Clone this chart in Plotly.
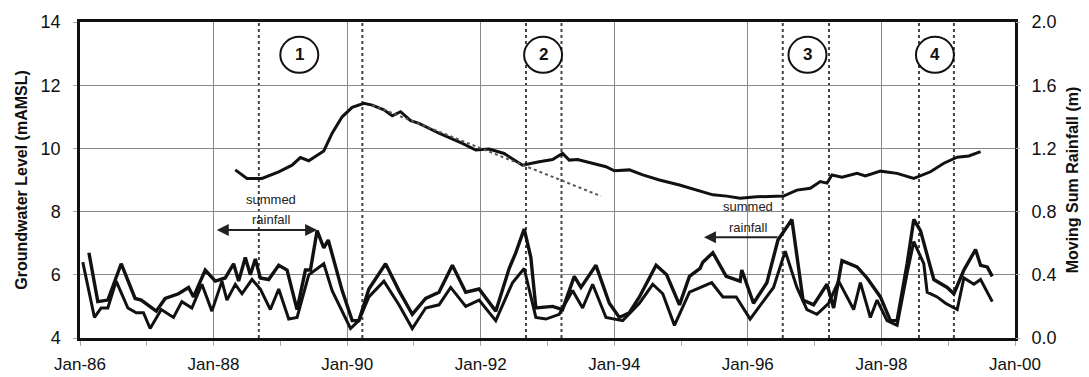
import numpy as np
import pandas as pd
import plotly.graph_objects as go

# ---------------- data (months after Jan-1986, values) ----------------
# Upper moving-sum rainfall series (m)
rain_a_month = [1.6, 3.2, 5.0, 7.4, 9.9, 11, 13.7, 15.3, 17.7, 19.5, 20.4, 22.5, 24.3, 26.1, 27.6,
                28.5, 29.7, 30.6, 31.5, 32.4, 33.9, 35.7, 37.2, 39.0, 40.5, 41.4, 42.6, 43.8, 44.6,
                47.1, 48.9, 50.1, 51.9, 54.9, 57.3, 59.7, 62.1, 64.5, 66.9, 69.3, 71.7, 74.7, 77.1,
                78.3, 79.8, 81.0, 81.9, 84.9, 86.7, 88.8, 90.0, 92.7, 95.1, 96.9, 98.7, 100.5, 103.5,
                105.4, 107.7, 109.5, 111.4, 111.9, 113.7, 116.1, 118.6, 118.9, 121.0, 123.4, 125.4,
                127.9, 129.9, 131.8, 134.2, 135.4, 136.9, 138.4, 139.6, 141.4, 143.8, 145.6, 146.8,
                148.6, 149.8, 151.0, 153.4, 155.8, 157.0, 158.8, 160.9, 161.8, 163.0, 163.9]
rain_a = [0.54, 0.23, 0.24, 0.47, 0.25, 0.24, 0.17, 0.25, 0.28, 0.32, 0.26, 0.43, 0.36, 0.38, 0.47,
          0.36, 0.51, 0.40, 0.50, 0.38, 0.37, 0.46, 0.43, 0.18, 0.43, 0.43, 0.68, 0.57, 0.62,
          0.30, 0.11, 0.11, 0.31, 0.47, 0.30, 0.15, 0.25, 0.29, 0.46, 0.29, 0.31, 0.17, 0.44,
          0.54, 0.69, 0.51, 0.19, 0.20, 0.18, 0.39, 0.32, 0.46, 0.22, 0.13, 0.16, 0.26, 0.46,
          0.40, 0.21, 0.39, 0.44, 0.48, 0.54, 0.39, 0.36, 0.43, 0.22, 0.35, 0.62,
          0.75, 0.24, 0.21, 0.34, 0.19, 0.49, 0.47, 0.45, 0.38, 0.26, 0.11, 0.11,
          0.47, 0.75, 0.68, 0.37, 0.32, 0.28, 0.43, 0.56, 0.46, 0.45, 0.39]

# Lower moving-sum rainfall series (m)
rain_b_month = [0.5, 2.6, 3.8, 5.0, 6.5, 8.6, 10.1, 11.4, 12.6, 14.6, 16.8, 18.3, 20.1, 21.9, 23.7,
                25.5, 26.4, 27.9, 29.1, 30.9, 32.4, 34.2, 35.7, 37.5, 39.0, 41.1, 43.8, 45.3, 48.6,
                50.1, 51.9, 54.6, 57.3, 59.7, 62.1, 64.5, 66.6, 69.3, 71.7, 74.7, 77.7, 79.8, 81.9,
                83.7, 86.1, 88.5, 90.3, 92.1, 94.5, 97.5, 100.5, 102.9, 104.7, 106.8, 109.5, 113.5,
                115.5, 117.9, 120.4, 124.6, 126.7, 128.8, 130.6, 132.4, 134.5, 136.3, 139.0, 140.2,
                142.0, 143.2, 145.0, 146.8, 148.6, 149.8, 151.6, 152.2, 154.0, 155.5, 157.6, 158.8,
                160.6, 161.8, 163.9]
rain_b = [0.48, 0.13, 0.19, 0.19, 0.36, 0.19, 0.16, 0.16, 0.06, 0.18, 0.13, 0.23, 0.19, 0.34, 0.17,
          0.36, 0.24, 0.34, 0.28, 0.37, 0.31, 0.18, 0.31, 0.12, 0.13, 0.40, 0.47, 0.30, 0.06,
          0.11, 0.26, 0.36, 0.21, 0.06, 0.19, 0.21, 0.32, 0.20, 0.24, 0.11, 0.35, 0.44, 0.13,
          0.12, 0.15, 0.30, 0.19, 0.34, 0.13, 0.11, 0.22, 0.34, 0.28, 0.08, 0.29, 0.35,
          0.26, 0.26, 0.12, 0.32, 0.55, 0.32, 0.18, 0.15, 0.22, 0.36, 0.18, 0.35,
          0.13, 0.24, 0.11, 0.08, 0.41, 0.61, 0.47, 0.29, 0.26, 0.22, 0.18, 0.38,
          0.34, 0.37, 0.23]

# Groundwater level (mAMSL)
gw_month = [27.9, 30.0, 32.7, 35.7, 38.1, 39.6, 41.1, 42.9, 43.8, 45.3, 47.1, 48.9, 51.0, 52.5,
            54.6, 56.1, 57.6, 59.4, 60.9, 64.5, 68.7, 71.1, 73.5, 76.2, 79.5, 82.5, 84.9, 86.7,
            87.9, 89.4, 92.1, 94.5, 96.0, 98.7, 101.1, 104.1, 107.7, 110.8, 113.7, 116.2, 118.6,
            121.6, 126.4, 128.8, 131.2, 133.0, 134.2, 135.1, 136.9, 139.6, 141.1, 143.8, 146.8,
            149.8, 152.8, 155.2, 157.6, 159.7, 161.8]
gw_level = [9.32, 9.05, 9.05, 9.26, 9.47, 9.71, 9.61, 9.81, 9.92, 10.48, 11.00, 11.30, 11.43, 11.37,
            11.22, 11.03, 11.16, 10.88, 10.79, 10.48, 10.16, 9.95, 9.98, 9.84, 9.47, 9.58, 9.65, 9.84,
            9.63, 9.65, 9.53, 9.42, 9.29, 9.32, 9.16, 9.00, 8.84, 8.68, 8.53, 8.49, 8.42,
            8.47, 8.49, 8.68, 8.74, 8.95, 8.90, 9.16, 9.09, 9.21, 9.13, 9.28, 9.21,
            9.05, 9.26, 9.53, 9.72, 9.76, 9.90]

# Recession trend (dotted)
trend_month = [52.5, 93.6]
trend_level = [11.37, 8.49]

# Event markers
event_dates = ["1988-09-05", "1990-03-25", "1992-09-05", "1993-03-18",
               "1996-07-10", "1997-03-20", "1998-07-25", "1999-02-01"]
event_labels = ["1", "2", "3", "4"]
event_label_months = [39.4, 83.2, 130.7, 153.6]

x_tick_labels = ["Jan-86", "Jan-88", "Jan-90", "Jan-92", "Jan-94", "Jan-96", "Jan-98", "Jan-00"]

BASE = pd.Timestamp("1986-01-01")


def to_date(months):
    return BASE + pd.to_timedelta(np.asarray(months, dtype=float) * 30.4375, unit="D")


FONT = "Liberation Sans, Arial, sans-serif"

fig = go.Figure()

fig.add_trace(go.Scatter(x=to_date(gw_month), y=gw_level, mode="lines",
                         line=dict(color="#111", width=3), yaxis="y", showlegend=False))
fig.add_trace(go.Scatter(x=to_date(trend_month), y=trend_level, mode="lines",
                         line=dict(color="#555", width=2, dash="dot"), yaxis="y", showlegend=False))
fig.add_trace(go.Scatter(x=to_date(rain_a_month), y=rain_a, mode="lines",
                         line=dict(color="#111", width=3.4), yaxis="y2", showlegend=False))
fig.add_trace(go.Scatter(x=to_date(rain_b_month), y=rain_b, mode="lines",
                         line=dict(color="#111", width=3), yaxis="y2", showlegend=False))

shapes = []
for d in event_dates:
    shapes.append(dict(type="line", xref="x", yref="paper", x0=d, x1=d, y0=0, y1=1,
                       line=dict(color="#444", width=2, dash="dot"), layer="below"))
annotations = []
for lab, m in zip(event_labels, event_label_months):
    xd = to_date([m])[0]
    shapes.append(dict(type="circle", xref="x", yref="y", xsizemode="pixel", ysizemode="pixel",
                       xanchor=xd, yanchor=12.96, x0=-19, x1=19, y0=-18, y1=18,
                       line=dict(color="#111", width=2), fillcolor="white", layer="above"))
    annotations.append(dict(x=xd, y=12.96, xref="x", yref="y", text=f"<b>{lab}</b>",
                            showarrow=False, font=dict(family=FONT, size=17, color="#111")))

# summed rainfall arrows and labels
annotations.append(dict(x=to_date([42.6])[0], y=7.42, ax=to_date([24.3])[0], ay=7.42,
                        xref="x", yref="y", axref="x", ayref="y", text="", showarrow=True,
                        arrowhead=2, arrowside="end+start", arrowsize=1.2, arrowwidth=2,
                        arrowcolor="#222"))
annotations.append(dict(x=to_date([112.1])[0], y=7.19, ax=to_date([125.6])[0], ay=7.19,
                        xref="x", yref="y", axref="x", ayref="y", text="", showarrow=True,
                        arrowhead=2, arrowsize=1.2, arrowwidth=2, arrowcolor="#222"))
label_font = dict(family=FONT, size=13, color="#222")
annotations.append(dict(x=to_date([34.4])[0], y=8.37, xref="x", yref="y", text="summed",
                        showarrow=False, font=label_font))
annotations.append(dict(x=to_date([34.4])[0], y=7.76, xref="x", yref="y", text="rainfall",
                        showarrow=False, font=label_font))
annotations.append(dict(x=to_date([120.0])[0], y=8.15, xref="x", yref="y", text="summed",
                        showarrow=False, font=label_font))
annotations.append(dict(x=to_date([120.0])[0], y=7.50, xref="x", yref="y", text="rainfall",
                        showarrow=False, font=label_font))

tick_dates = [f"{1986 + 2 * i}-01-01" for i in range(len(x_tick_labels))]

# The page body keeps an 8 px default margin, so the figure is offset by it.
fig.update_layout(
    width=1081, height=369,
    margin=dict(l=72, r=74, t=14, b=39),
    paper_bgcolor="white", plot_bgcolor="white",
    font=dict(family=FONT, size=17, color="#111"),
    shapes=shapes, annotations=annotations,
    xaxis=dict(type="date", range=["1986-01-01", "2000-01-01"], automargin=False,
               tickvals=tick_dates, ticktext=x_tick_labels,
               showgrid=True, gridcolor="#888", gridwidth=1,
               ticks="outside", ticklen=5, tickcolor="#aaa", ticklabelstandoff=4,
               minor=dict(dtick="M12", ticks="outside", ticklen=5, tickcolor="#aaa", showgrid=False),
               showline=True, linecolor="#111", linewidth=2.5, mirror=True,
               tickfont=dict(size=17), zeroline=False),
    yaxis=dict(range=[4, 14], dtick=2, showgrid=True, gridcolor="#888", gridwidth=1,
               automargin=False,
               ticks="outside", ticklen=4, tickcolor="#aaa", ticklabelstandoff=9,
               showline=True, linecolor="#111", linewidth=2.5, mirror=True,
               title=dict(text="<b>Groundwater Level (mAMSL)</b>", font=dict(size=16), standoff=10),
               tickfont=dict(size=18), zeroline=False),
    yaxis2=dict(range=[0, 2.0], dtick=0.4, tickformat=".1f", overlaying="y", side="right",
                automargin=False,
                showgrid=False, ticks="outside", ticklen=4, tickcolor="#aaa", ticklabelstandoff=8,
                title=dict(text="<b>Moving Sum Rainfall (m)</b>", font=dict(size=16), standoff=11),
                tickfont=dict(size=18), zeroline=False),
)

fig.write_html("out.html")
